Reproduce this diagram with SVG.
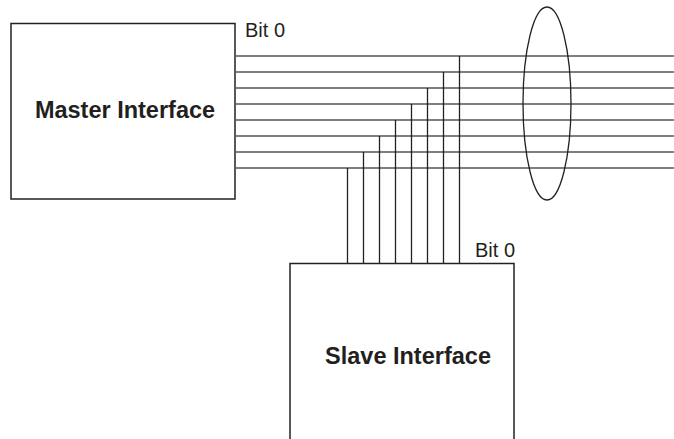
<svg xmlns="http://www.w3.org/2000/svg" width="674" height="439" viewBox="0 0 674 439">
<style>
.box{fill:#fff;stroke:#222;stroke-width:1.5}
.h{stroke:#555;stroke-width:1.6;fill:none}
.v{stroke:#222;stroke-width:1.3;fill:none}
.lbl{font-family:"Liberation Sans",Arial,sans-serif;font-weight:bold;font-size:23.5px;fill:#231f20;text-anchor:middle}
.bit{font-family:"Liberation Sans",Arial,sans-serif;font-size:20px;fill:#231f20}
</style>
<rect width="674" height="439" fill="#fff"/>
<g id="master">
<rect class="box" x="11" y="23.5" width="224" height="175.5"/>
<text class="lbl" x="125" y="117.5">Master Interface</text>
<text class="bit" x="245" y="37">Bit 0</text>
</g>
<g id="slave">
<path class="box" d="M290,440 V263.5 H514 V440"/>
<text class="lbl" x="408" y="364">Slave Interface</text>
<text class="bit" x="475" y="257">Bit 0</text>
</g>
<g id="connectors">
<path class="h" d="M235,56H674M235,72H674M235,88H674M235,104H674M235,120H674M235,136H674M235,152H674M235,168H674"/>
<path class="v" d="M459.5,56V263.5M443.5,72V263.5M427.5,88V263.5M411.5,104V263.5M395.5,120V263.5M379.5,136V263.5M363.5,152V263.5M347.5,168V263.5"/>
<ellipse cx="547" cy="103.5" rx="24" ry="96.5" fill="none" stroke="#222" stroke-width="1.3"/>
</g>
</svg>
